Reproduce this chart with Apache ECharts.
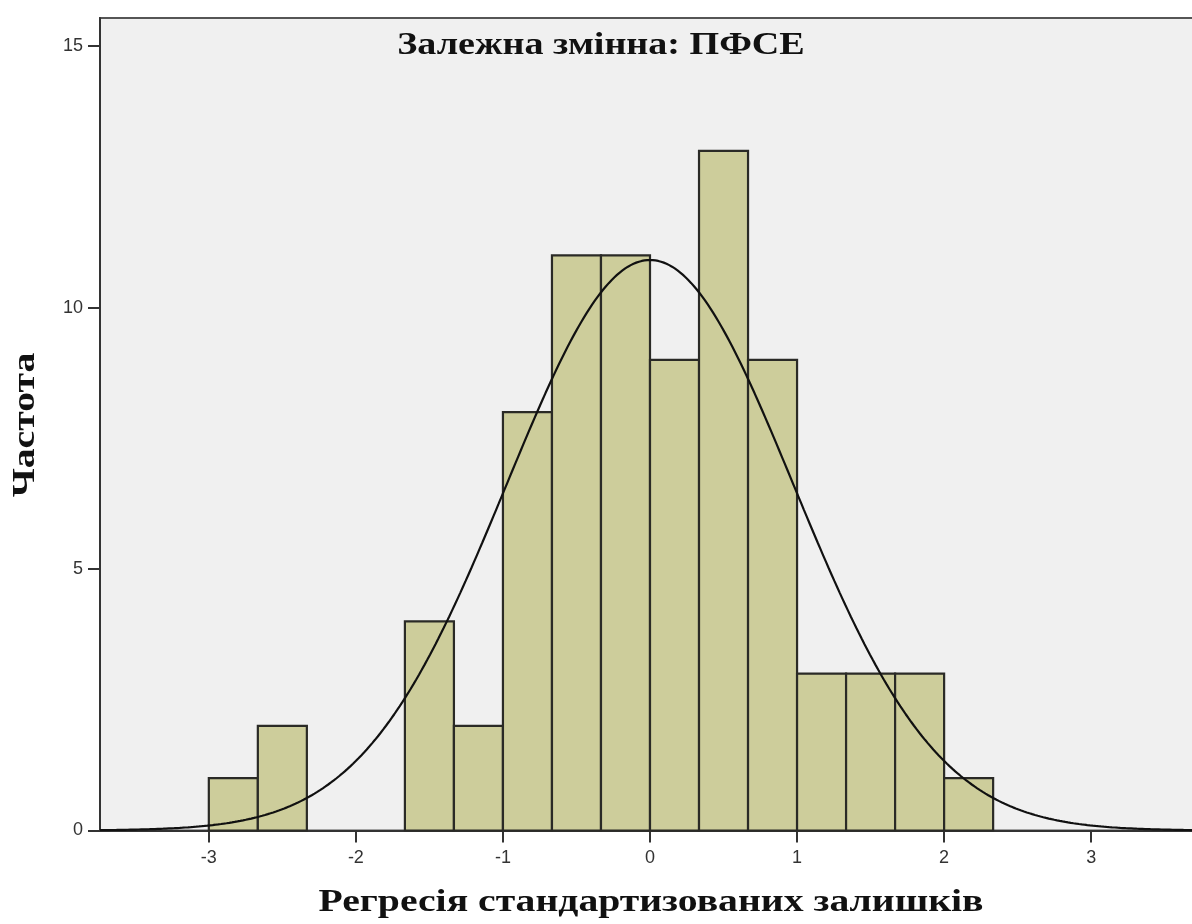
<!DOCTYPE html>
<html>
<head>
<meta charset="utf-8">
<script src="https://cdn.jsdelivr.net/npm/echarts@6/dist/echarts.min.js"></script>
<style>
  html, body { margin: 0; padding: 0; background: #ffffff; }
  #chart { width: 1192px; height: 924px; }
</style>
</head>
<body>
<div id="chart"></div>
<script>
// Histogram of standardized regression residuals with a fitted normal curve
const titleText = 'Залежна змінна: ПФСЕ';
const xAxisName = 'Регресія стандартизованих залишків';
const yAxisName = 'Частота';

// Bins: first lower edge and width (in residual units), and the count in each bin
const binStart = -3;
const binWidth = 1 / 3;
const binCounts = [1, 2, 0, 0, 4, 2, 8, 11, 11, 9, 13, 9, 3, 3, 3, 1];

// Fitted normal curve parameters
const residMean = 0.0;
const residSd = 0.975;
const nObs = 80;

// Tick labels
const xTicks = [-3, -2, -1, 0, 1, 2, 3];
const yTicks = [0, 5, 10, 15];

// Bars as [left edge, right edge, count]
const barData = binCounts.map((c, i) => {
  const x0 = binStart + i * binWidth;
  return [x0, x0 + binWidth, c];
}).filter(d => d[2] > 0);

// Normal density scaled to counts per bin
const curveData = [];
const xMin = -3.74, xMax = 3.74;
for (let k = 0; k <= 400; k++) {
  const x = xMin + (xMax - xMin) * k / 400;
  const z = (x - residMean) / residSd;
  const y = nObs * binWidth * Math.exp(-0.5 * z * z) / (residSd * Math.sqrt(2 * Math.PI));
  curveData.push([x, y]);
}

const chart = echarts.init(document.getElementById('chart'), null, { renderer: 'canvas' });
const serifFont = 'bold 32px "Liberation Serif", "Times New Roman", serif';
const sans = '"Liberation Sans", Arial, sans-serif';

// Wide bold serif captions
function caption(text, x, y, sx, rot) {
  return {
    type: 'text', x: x, y: y, scaleX: sx, rotation: rot || 0, z: 10,
    style: {
      text: text, font: serifFont, fill: '#111',
      align: 'center', verticalAlign: 'middle',
      textAlign: 'center', textVerticalAlign: 'middle'
    }
  };
}

chart.setOption({
  animation: false,
  backgroundColor: '#ffffff',
  graphic: [
    caption(titleText, 601, 46, 1.19),
    caption(xAxisName, 651, 903, 1.24),
    caption(yAxisName, 26, 425, 1.24, Math.PI / 2)
  ],
  grid: {
    left: 100, top: 18, width: 1100, height: 812.5,
    containLabel: false, outerBoundsMode: 'none',
    show: true, backgroundColor: '#f0f0f0',
    borderColor: '#555', borderWidth: 2
  },
  xAxis: {
    type: 'value', min: xMin, max: xMax,
    axisLine: { show: true, onZero: false, lineStyle: { color: '#333', width: 2 } },
    axisTick: { show: true, customValues: xTicks, length: 12, lineStyle: { color: '#333', width: 2 } },
    axisLabel: { customValues: xTicks, margin: 19, fontFamily: sans, fontSize: 18, color: '#333' },
    splitLine: { show: false }
  },
  yAxis: {
    type: 'value', min: 0, max: 15.54,
    axisLine: { show: true, onZero: false, lineStyle: { color: '#333', width: 2 } },
    axisTick: { show: true, customValues: yTicks, length: 12, lineStyle: { color: '#333', width: 2 } },
    axisLabel: { customValues: yTicks, margin: 17, fontFamily: sans, fontSize: 18, color: '#333' },
    splitLine: { show: false }
  },
  series: [
    {
      type: 'custom',
      data: barData,
      encode: { x: [0, 1], y: 2 },
      renderItem: function (params, api) {
        const p0 = api.coord([api.value(0), 0]);
        const p1 = api.coord([api.value(1), api.value(2)]);
        return {
          type: 'rect',
          shape: { x: p0[0], y: p1[1], width: p1[0] - p0[0], height: p0[1] - p1[1] },
          style: { fill: '#cdcd9b', stroke: '#2a2a26', lineWidth: 2.2 }
        };
      },
      z: 2
    },
    {
      type: 'line',
      data: curveData,
      showSymbol: false,
      smooth: false,
      lineStyle: { color: '#111', width: 2.2 },
      z: 3
    }
  ]
});
</script>
</body>
</html>
